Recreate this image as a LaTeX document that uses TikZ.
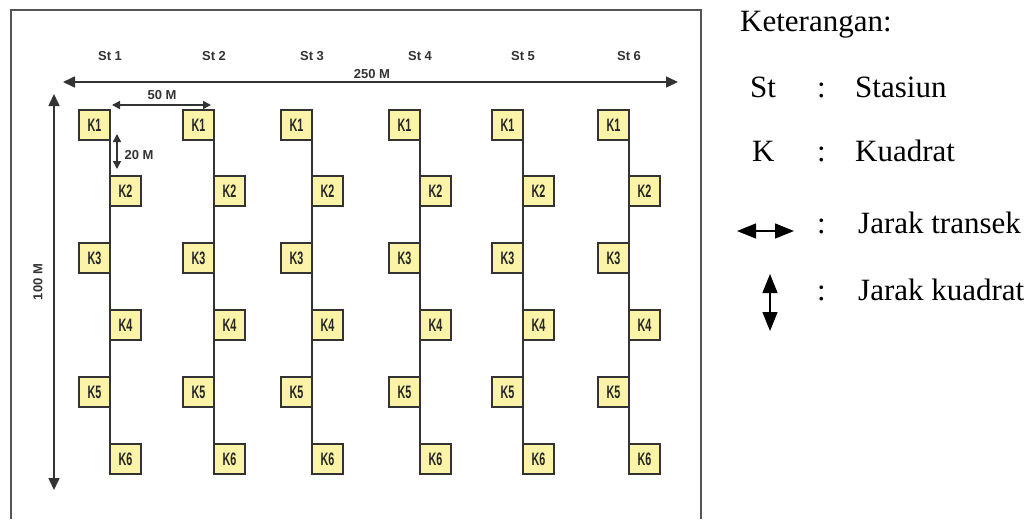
\documentclass[tikz,border=0pt]{standalone}
\usepackage{fontspec}
\setmainfont{Liberation Serif}
\newfontfamily\arialf{Liberation Sans}
\usetikzlibrary{arrows.meta}
\definecolor{framegray}{HTML}{555555}
\definecolor{inkgray}{HTML}{333333}
\definecolor{quadfill}{HTML}{FBF4A8}
\tikzset{
  quad/.style={draw=inkgray, line width=1.4pt, fill=quadfill,
    minimum width=31pt, minimum height=30pt, inner sep=0pt, outer sep=0pt,
    font=\arialf\bfseries\fontsize{18}{18}\selectfont, text=black!85},
  lbl/.style={font=\arialf\bfseries\fontsize{13}{13}\selectfont, text=inkgray, inner sep=0pt},
  dim/.style={draw=inkgray, line width=1.6pt,
    {Triangle[length=12pt,width=11pt]}-{Triangle[length=12pt,width=11pt]}},
  smalldim/.style={draw=inkgray, line width=1.5pt,
    {Triangle[length=8pt,width=8pt]}-{Triangle[length=8pt,width=8pt]}},
  legtxt/.style={font=\fontsize{31}{31}\selectfont, anchor=base west, inner sep=0pt},
  legarrow/.style={draw=black, line width=1.3pt,
    {Triangle[length=19pt,width=15pt]}-{Triangle[length=19pt,width=15pt]}},
  transect/.style={draw=inkgray, line width=1.3pt},
}
\newcommand{\qlabel}[1]{\scalebox{0.6}[1]{#1}}
\begin{document}
\begin{tikzpicture}[x=1pt,y=-1pt]
  \useasboundingbox (0,0) rectangle (1035,519);
  % open frame round the sampling plot
  \draw[framegray, line width=2pt] (10.5,519) -- (10.5,10.5) -- (701,10.5) -- (701,519);

  % stations with their six quadrats each
  \foreach \c/\x in {1/110,2/214,3/312,4/420,5/523,6/629}{
    \node[lbl] (st\c) at (\x,56) {St \c};
    \node[quad] (c\c-k1) at ({\x-15.5},125) {\qlabel{K1}};
    \node[quad] (c\c-k2) at ({\x+15.5},191) {\qlabel{K2}};
    \node[quad] (c\c-k3) at ({\x-15.5},258) {\qlabel{K3}};
    \node[quad] (c\c-k4) at ({\x+15.5},325) {\qlabel{K4}};
    \node[quad] (c\c-k5) at ({\x-15.5},392) {\qlabel{K5}};
    \node[quad] (c\c-k6) at ({\x+15.5},459) {\qlabel{K6}};
    \draw[transect] (c\c-k1.south east) -- (c\c-k2.north west)
                    (c\c-k2.south west) -- (c\c-k3.north east)
                    (c\c-k3.south east) -- (c\c-k4.north west)
                    (c\c-k4.south west) -- (c\c-k5.north east)
                    (c\c-k5.south east) -- (c\c-k6.north west);
  }

  % overall dimensions
  \coordinate (w250) at (63,82);
  \coordinate (e250) at (678,82);
  \draw[dim] (w250) -- (e250);
  \node[lbl] (l250) at (372,74) {250 M};

  \coordinate (n100) at (54,94);
  \coordinate (s100) at (54,490);
  \draw[dim] (n100) -- (s100);
  \node[lbl, rotate=90] (l100) at (38,282) {100 M};

  % spacing between transects and between quadrats
  \coordinate (w50) at (112,105);
  \coordinate (e50) at (211,105);
  \draw[smalldim] (w50) -- (e50);
  \node[lbl] (l50) at (162,95) {50 M};

  \coordinate (n20) at (117,134);
  \coordinate (s20) at (117,169);
  \draw[smalldim] (n20) -- (s20);
  \node[lbl] (l20) at (139,155) {20 M};

  % legend
  \node[legtxt] (ket) at (740,32) {Keterangan:};
  \node[legtxt] (kst) at (750,97) {St};
  \node[legtxt] (c1) at (817,97) {:};
  \node[legtxt] (vst) at (855,97) {Stasiun};
  \node[legtxt] (kk) at (752,161) {K};
  \node[legtxt] (c2) at (817,161) {:};
  \node[legtxt] (vk) at (855,161) {Kuadrat};
  \coordinate (lh1) at (737,231);
  \coordinate (lh2) at (794,231);
  \draw[legarrow] (lh1) -- (lh2);
  \node[legtxt] (c3) at (817,233) {:};
  \node[legtxt] (vt) at (858,233) {Jarak transek};
  \coordinate (lv1) at (770,274);
  \coordinate (lv2) at (770,331);
  \draw[legarrow] (lv1) -- (lv2);
  \node[legtxt] (c4) at (817,300) {:};
  \node[legtxt] (vkd) at (858,300) {Jarak kuadrat};
\end{tikzpicture}
\end{document}
